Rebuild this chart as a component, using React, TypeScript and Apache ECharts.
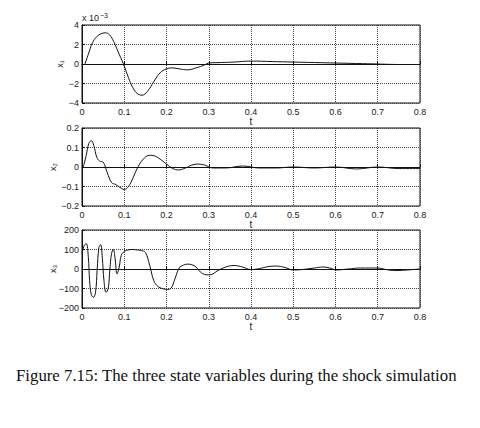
import React, { useEffect, useRef } from "react";
import * as echarts from "echarts";

const xTicks = [0, 0.1, 0.2, 0.3, 0.4, 0.5, 0.6, 0.7, 0.8];

const t1 = [0.007, 0.015, 0.025, 0.035, 0.045, 0.055, 0.065, 0.075, 0.085, 0.098, 0.11, 0.12, 0.13, 0.142, 0.155, 0.17, 0.185, 0.2, 0.215, 0.23, 0.25, 0.27, 0.29, 0.3, 0.33, 0.36, 0.4, 0.45, 0.5, 0.55, 0.6, 0.65, 0.7, 0.75, 0.8];
const x1 = [0, 1.0, 2.2, 2.8, 3.1, 3.2, 3.0, 2.3, 1.3, 0, -1.4, -2.4, -3.0, -3.2, -2.8, -1.8, -0.9, -0.5, -0.4, -0.5, -0.6, -0.4, -0.1, 0.1, 0.15, 0.2, 0.3, 0.25, 0.2, 0.15, 0.1, 0.05, 0, -0.05, -0.05];

const t2 = [0.003, 0.01, 0.016, 0.022, 0.028, 0.035, 0.042, 0.05, 0.06, 0.07, 0.08, 0.09, 0.1, 0.11, 0.12, 0.13, 0.145, 0.16, 0.17, 0.185, 0.2, 0.215, 0.228, 0.245, 0.26, 0.275, 0.29, 0.31, 0.34, 0.38, 0.42, 0.46, 0.5, 0.55, 0.6, 0.65, 0.7, 0.75, 0.8];
const x2 = [0, 0.06, 0.12, 0.135, 0.11, 0.05, 0.03, 0.025, -0.03, -0.08, -0.09, -0.105, -0.115, -0.1, -0.06, -0.01, 0.04, 0.06, 0.058, 0.04, 0.015, -0.008, -0.015, -0.005, 0.01, 0.015, 0.01, -0.005, -0.005, 0.005, -0.005, -0.005, 0, -0.005, 0, -0.01, 0, -0.008, -0.008];

const t3 = [0, 0.005, 0.01, 0.015, 0.018, 0.022, 0.027, 0.032, 0.036, 0.04, 0.044, 0.048, 0.052, 0.057, 0.062, 0.066, 0.07, 0.074, 0.078, 0.083, 0.088, 0.093, 0.1, 0.11, 0.12, 0.13, 0.14, 0.15, 0.16, 0.17, 0.18, 0.19, 0.2, 0.21, 0.22, 0.23, 0.24, 0.25, 0.26, 0.27, 0.28, 0.29, 0.3, 0.31, 0.32, 0.34, 0.36, 0.38, 0.4, 0.42, 0.44, 0.46, 0.48, 0.5, 0.52, 0.55, 0.57, 0.59, 0.6, 0.63, 0.66, 0.7, 0.72, 0.74, 0.77, 0.8];
const x3 = [80, 120, 130, 60, -60, -130, -145, -120, 0, 110, 125, 60, -60, -120, -100, 0, 80, 100, 60, -25, 10, 70, 90, 98, 100, 98, 95, 85, 20, -60, -90, -100, -105, -100, -50, 5, 20, 25, 22, 10, -15, -28, -30, -25, -10, 10, 18, 10, -3, 2, 12, 15, 8, -5, -3, 5, 10, 3, -5, 0, 5, 5, -3, -8, -5, 0];

const zip = (a: number[], b: number[]) => a.map((v, i) => [v, b[i]]);

const FONT = "Liberation Sans";
const TXT = "#222";

export default function App() {
  const ref = useRef<HTMLDivElement>(null);
  useEffect(() => {
    if (!ref.current) return;
    const chart = echarts.init(ref.current, null, { renderer: "svg" });
    const tops = [25, 128, 230];
    const grids = tops.map((top) => ({
      left: 82,
      width: 338,
      top,
      height: 78,
      show: true,
      borderColor: "#111",
      borderWidth: 1,
      backgroundColor: "transparent",
    }));
    const xAxes = [0, 1, 2].map((i) => ({
      type: "value" as const,
      gridIndex: i,
      min: 0,
      max: 0.8,
      interval: 0.1,
      name: "t",
      nameLocation: "middle" as const,
      nameGap: 13,
      nameMoveOverlap: false,
      nameTextStyle: { fontFamily: FONT, fontSize: 10, color: TXT },
      axisLine: { show: true, lineStyle: { color: "#111" } },
      axisTick: { show: true, inside: true, length: 3, lineStyle: { color: "#111" } },
      axisLabel: {
        fontFamily: FONT,
        fontSize: 9,
        color: TXT,
        margin: 4,
        formatter: (v: number) => String(Math.round(v * 10) / 10),
      },
      splitLine: { show: true, lineStyle: { type: "dotted" as const, color: "#444", width: 1 } },
    }));
    const yCfg = [
      { min: -4, max: 4, interval: 2, name: "x\u2081", gap: 18 },
      { min: -0.2, max: 0.2, interval: 0.1, name: "x\u2082", gap: 25 },
      { min: -200, max: 200, interval: 100, name: "x\u2083", gap: 25 },
    ];
    const yAxes = yCfg.map((c, i) => ({
      type: "value" as const,
      gridIndex: i,
      min: c.min,
      max: c.max,
      interval: c.interval,
      name: c.name,
      nameLocation: "middle" as const,
      nameGap: c.gap,
      nameMoveOverlap: false,
      nameRotate: 90,
      nameTextStyle: { fontFamily: FONT, fontSize: 9, color: TXT },
      axisLine: { show: true, lineStyle: { color: "#111" } },
      axisTick: { show: true, inside: true, length: 3, lineStyle: { color: "#111" } },
      axisLabel: {
        fontFamily: FONT,
        fontSize: 9,
        color: TXT,
        margin: 3,
        formatter: (v: number) => {
          const r = Math.round(v * 1000) / 1000;
          return r < 0 ? "\u2212" + String(-r) : String(r);
        },
      },
      splitLine: { show: true, lineStyle: { type: "dotted" as const, color: "#444", width: 1 } },
    }));
    const datas = [zip(t1, x1), zip(t2, x2), zip(t3, x3)];
    chart.setOption({
      animation: false,
      backgroundColor: "#fff",
      grid: grids,
      xAxis: xAxes,
      yAxis: yAxes,
      series: datas.map((d, i) => ({
        type: "line",
        xAxisIndex: i,
        yAxisIndex: i,
        data: d,
        showSymbol: false,
        smooth: 0.4,
        lineStyle: { color: "#111", width: 1 },
      })),
      graphic: [
        {
          type: "text",
          left: 82,
          top: 12,
          style: {
            text: "{a|x 10}{b|\u22123}",
            rich: {
              a: { fontFamily: FONT, fontSize: 9, fill: TXT },
              b: { fontFamily: FONT, fontSize: 7, fill: TXT, verticalAlign: "top", padding: [0, 0, 5, 1] },
            },
          },
        },
        {
          type: "text",
          left: 16,
          top: 367,
          style: {
            text: "Figure 7.15: The three state variables during the shock simulation",
            fontFamily: "Liberation Serif",
            fontSize: 16.8,
            fill: "#111",
          },
        },
      ],
    });
    return () => chart.dispose();
  }, []);
  return <div ref={ref} style={{ width: 480, height: 428, position: "absolute", left: 0, top: 0 }} />;
}
